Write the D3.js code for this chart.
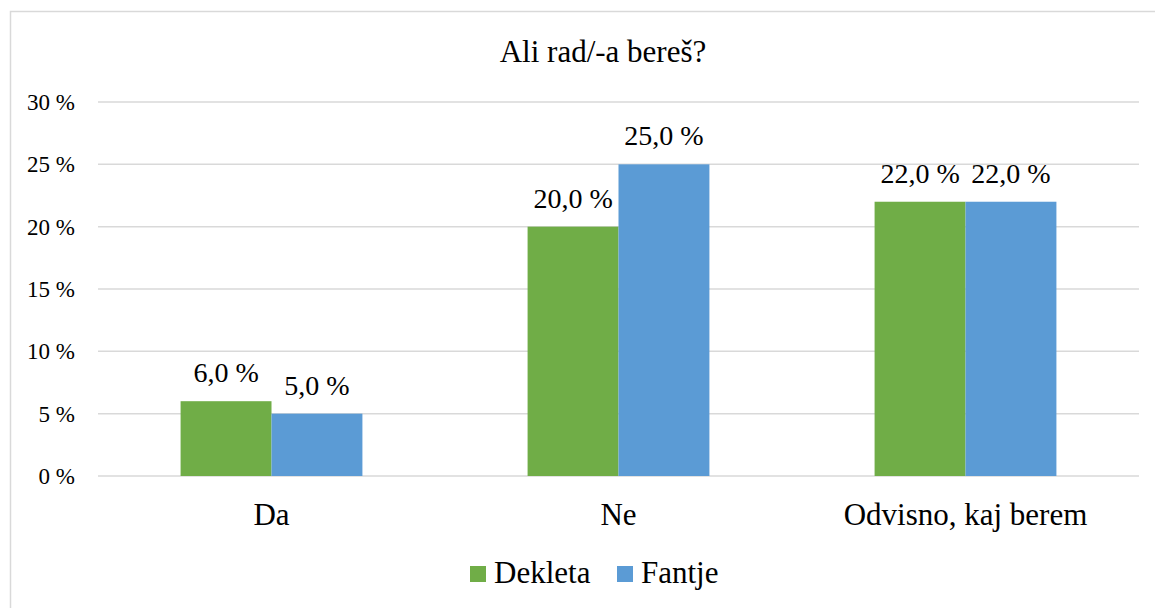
<!doctype html>
<html>
<head>
<meta charset="utf-8">
<style>
body { margin: 0; background: #fff; }
</style>
<script src="https://d3js.org/d3.v7.min.js"></script>
</head>
<body>
<svg width="1155" height="608"></svg>
<script>
// data
var categories = ["Da", "Ne", "Odvisno, kaj berem"];
var seriesNames = ["Dekleta", "Fantje"];
var dekleta = [6.0, 20.0, 22.0];
var fantje = [5.0, 25.0, 22.0];
var yTicks = [0, 5, 10, 15, 20, 25, 30];
var colors = ["#70ad47", "#5b9bd5"];

var FONT = "Liberation Serif";

var svg = d3.select("svg");

var plot = { left: 98, right: 1139, top: 102, bottom: 476 };

// chart frame (right/bottom edges fall outside the window)
svg.append("rect")
    .attr("x", 10.5).attr("y", 11.5)
    .attr("width", 1200).attr("height", 700)
    .attr("fill", "none").attr("stroke", "#d9d9d9").attr("stroke-width", 1.5);

var x0 = d3.scaleBand().domain(categories).range([plot.left, plot.right]);
var barW = x0.bandwidth() * 0.262;
var x1 = d3.scaleBand().domain(seriesNames).range([-barW, barW]);
var y = d3.scaleLinear().domain([0, 30]).range([plot.bottom, plot.top]);

// gridlines
svg.append("g").selectAll("line")
    .data(yTicks).enter().append("line")
    .attr("x1", plot.left).attr("x2", plot.right)
    .attr("y1", function(d) { return y(d); })
    .attr("y2", function(d) { return y(d); })
    .attr("stroke", "#d9d9d9").attr("stroke-width", 1.5);

// y axis labels
var yAxis = d3.axisLeft(y).tickValues(yTicks).tickSize(0).tickPadding(0)
    .tickFormat(function(d) { return d + " %"; });
var ya = svg.append("g").attr("transform", "translate(75,0)").call(yAxis);
ya.select(".domain").remove();
ya.attr("font-family", null).attr("font-size", null);
ya.selectAll("text")
    .style("font-family", FONT).style("font-size", "23px")
    .attr("fill", "#000");

var rows = categories.map(function(c, i) { return { cat: c, vals: [dekleta[i], fantje[i]] }; });

var groups = svg.append("g").selectAll("g")
    .data(rows).enter().append("g")
    .attr("transform", function(d) { return "translate(" + (x0(d.cat) + x0.bandwidth() / 2) + ",0)"; });

groups.selectAll("rect")
    .data(function(d) { return d.vals.map(function(v, j) { return { s: seriesNames[j], v: v, j: j }; }); })
    .enter().append("rect")
    .attr("x", function(d) { return x1(d.s); })
    .attr("width", x1.bandwidth())
    .attr("y", function(d) { return y(d.v); })
    .attr("height", function(d) { return y(0) - y(d.v); })
    .attr("fill", function(d) { return colors[d.j]; });

// value labels
groups.selectAll("text")
    .data(function(d) { return d.vals.map(function(v, j) { return { s: seriesNames[j], v: v }; }); })
    .enter().append("text")
    .attr("x", function(d) { return x1(d.s) + x1.bandwidth() / 2; })
    .attr("y", function(d) { return y(d.v) - 19; })
    .attr("text-anchor", "middle")
    .style("font-family", FONT)
    .style("font-size", "28px")
    .text(function(d) { return d.v.toFixed(1).replace(".", ",") + " %"; });

// category labels
svg.append("g").selectAll("text")
    .data(categories).enter().append("text")
    .attr("x", function(d) { return x0(d) + x0.bandwidth() / 2; })
    .attr("y", 525)
    .attr("text-anchor", "middle")
    .style("font-family", FONT)
    .style("font-size", "31px")
    .text(function(d) { return d; });

// title
svg.append("text")
    .attr("x", 603).attr("y", 62)
    .attr("text-anchor", "middle")
    .style("font-family", FONT)
    .style("font-size", "31px")
    .text("Ali rad/-a bereš?");

// legend
var legendX = [470, 617];
var leg = svg.append("g").selectAll("g")
    .data(seriesNames).enter().append("g")
    .attr("transform", function(d, i) { return "translate(" + legendX[i] + ",0)"; });
leg.append("rect")
    .attr("x", 0).attr("y", 566).attr("width", 16).attr("height", 16)
    .attr("fill", function(d, i) { return colors[i]; });
leg.append("text")
    .attr("x", 24).attr("y", 583)
    .style("font-family", FONT)
    .style("font-size", "31px")
    .text(function(d) { return d; });
</script>
</body>
</html>
